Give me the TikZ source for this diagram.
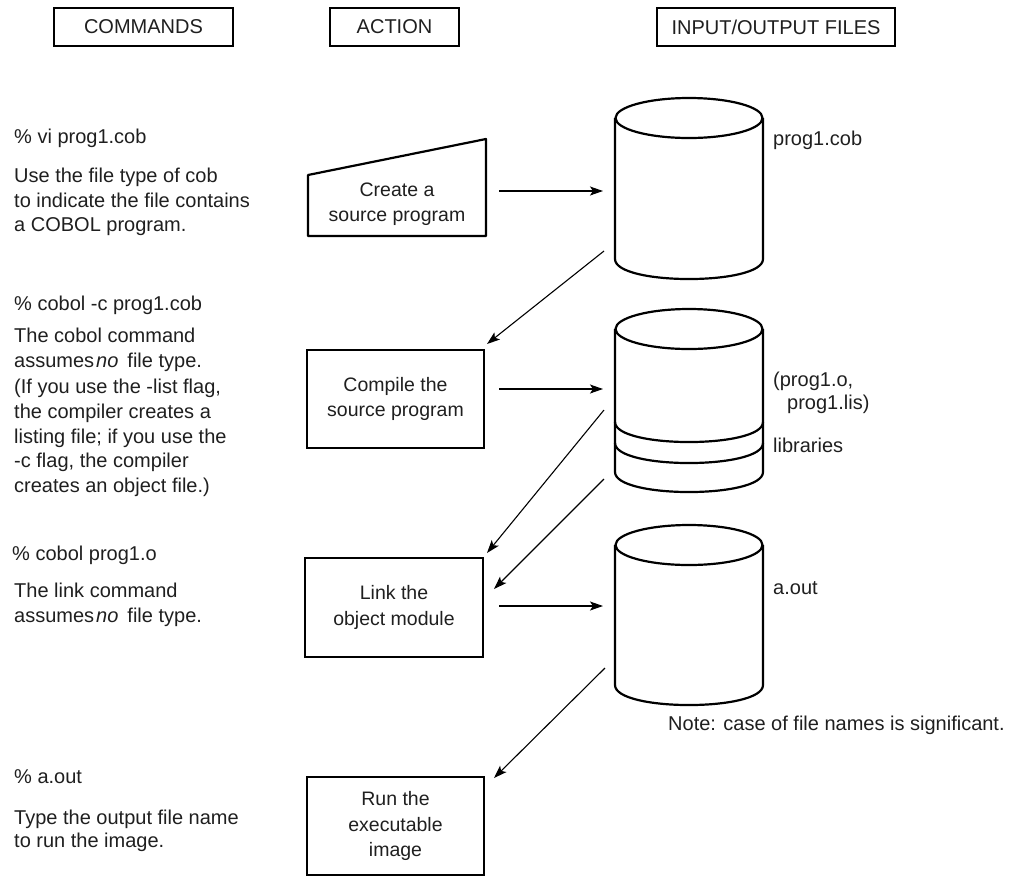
\documentclass[tikz,border=0pt]{standalone}
\usepackage{fontspec}
\setmainfont{Liberation Sans}
\usetikzlibrary{arrows.meta}
\begin{document}
\begin{tikzpicture}[x=1pt,y=-1pt,
  txt/.style={anchor=base west, inner sep=0pt, font=\fontsize{20}{24}\selectfont, text=black!88},
  hdr/.style={draw, line width=2.2pt, minimum height=38pt, inner sep=0pt, font=\fontsize{20}{24}\selectfont, text=black!88},
  actbox/.style={draw, line width=2.2pt, minimum width=177pt, minimum height=98pt, inner sep=0pt, align=center, font=\fontsize{19.5}{25.5}\selectfont, text=black!88},
  boxtext/.style={inner sep=0pt, align=center, font=\fontsize{19.5}{25.5}\selectfont, text=black!88},
  arr/.style={line width=1.1pt, -{Stealth[length=13pt,width=9pt,inset=3pt]}},
  cylline/.style={line width=2.2pt},
]
\useasboundingbox (0,0) rectangle (1014,876);

% headers
\node[hdr, minimum width=179pt] (hcmd) at (143.5,27) {COMMANDS};
\node[hdr, minimum width=129pt] (hact) at (394.5,27) {ACTION};
\node[hdr, minimum width=238pt] (hio) at (776,27) {INPUT/OUTPUT FILES};

% left column text
\node[txt] (t1) at (14,143) {\% vi prog1.cob};
\node[txt] (t2) at (14,182) {Use the file type of cob};
\node[txt] (t3) at (14,207) {to indicate the file contains};
\node[txt] (t4) at (14,231) {a COBOL program.};
\node[txt] (t5) at (14,310) {\% cobol -c prog1.cob};
\node[txt] (t6) at (14,342) {The cobol command};
\node[txt] (t7) at (14,367) {assumes\kern2pt\textit{no}\kern9pt file type.};
\node[txt] (t8) at (14,393) {(If you use the -list flag,};
\node[txt] (t9) at (14,418) {the compiler creates a};
\node[txt] (t10) at (14,443) {listing file; if you use the};
\node[txt] (t11) at (14,467) {-c flag, the compiler};
\node[txt] (t12) at (14,492) {creates an object file.)};
\node[txt] (t13) at (12,560) {\% cobol prog1.o};
\node[txt] (t14) at (14,597) {The link command};
\node[txt] (t15) at (14,622) {assumes\kern2pt\textit{no}\kern9pt file type.};
\node[txt] (t16) at (14,783) {\% a.out};
\node[txt] (t17) at (14,824) {Type the output file name};
\node[txt] (t18) at (14,847) {to run the image.};

% action column
\draw[line width=2.2pt, line join=round] (308,236) -- (308,175) -- (486,139) -- (486,236) -- cycle;
\node[boxtext] (create) at (397,204) {Create a\\source program};
\node[actbox] (compile) at (395.5,399) {Compile the\\source program};
\node[actbox, minimum width=178pt, minimum height=99pt] (link) at (394,607.5) {Link the\\object module};
\node[actbox] (run) at (395.5,826) {Run the\\executable\\image};

% cylinders
\draw[cylline] (689,118) ellipse [x radius=73.5, y radius=20];
\draw[cylline] (615,118) -- (615,259) .. controls (615,285.7) and (763,285.7) .. (763,259) -- (763,118);

\draw[cylline] (689,329) ellipse [x radius=73.5, y radius=20];
\draw[cylline] (615,329) -- (615,472) .. controls (615,498.7) and (763,498.7) .. (763,472) -- (763,329);
\draw[cylline] (615,422) .. controls (615,448.7) and (763,448.7) .. (763,422);
\draw[cylline] (615,443) .. controls (615,469.7) and (763,469.7) .. (763,443);

\draw[cylline] (689,545) ellipse [x radius=73.5, y radius=20];
\draw[cylline] (615,545) -- (615,685) .. controls (615,711.7) and (763,711.7) .. (763,685) -- (763,545);

% file labels
\node[txt] (f1) at (773,145) {prog1.cob};
\node[txt] (f2) at (773,386) {(prog1.o,};
\node[txt] (f3) at (787,409) {prog1.lis)};
\node[txt] (f4) at (773,452) {libraries};
\node[txt] (f5) at (773,594) {a.out};
\node[txt] (note) at (668,730) {Note: case of file names is significant.};

% connector end points
\coordinate (a1s) at (499,191); \coordinate (a1e) at (603,191);
\coordinate (a2s) at (499,389); \coordinate (a2e) at (603,389);
\coordinate (a3s) at (499,606); \coordinate (a3e) at (603,606);
\coordinate (dAs) at (604,251); \coordinate (dAe) at (487,344);
\coordinate (dBs) at (604,410); \coordinate (dBe) at (487,553);
\coordinate (dCs) at (604,479); \coordinate (dCe) at (494,589);
\coordinate (dDs) at (605,668); \coordinate (dDe) at (494,778);

\draw[arr] (a1s) -- (a1e);
\draw[arr] (a2s) -- (a2e);
\draw[arr] (a3s) -- (a3e);
\draw[arr] (dAs) -- (dAe);
\draw[arr] (dBs) -- (dBe);
\draw[arr] (dCs) -- (dCe);
\draw[arr] (dDs) -- (dDe);
\end{tikzpicture}
\end{document}
